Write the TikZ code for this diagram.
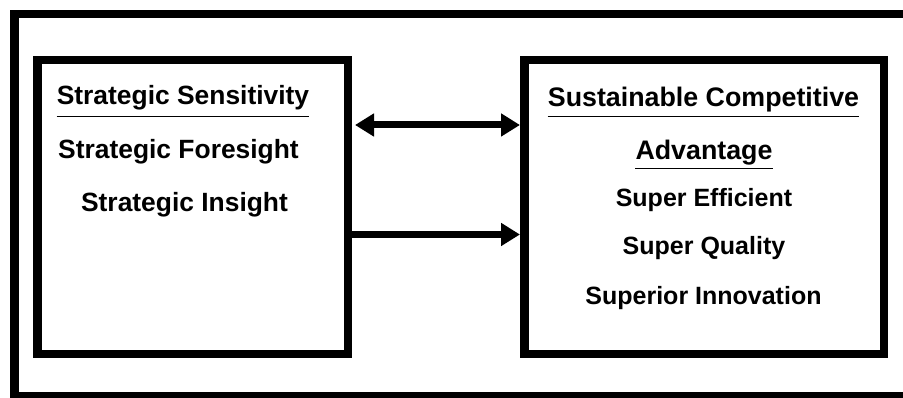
\documentclass[tikz,border=0pt]{standalone}
\usepackage{fontspec}
\setmainfont{Liberation Sans}
\usetikzlibrary{arrows.meta}
\begin{document}
\begin{tikzpicture}[x=1pt,y=-1pt,
  box/.style={draw,line width=8.5pt,inner sep=0pt,minimum height=293.5pt},
  hl/.style={font=\fontsize{26.4}{30}\selectfont\bfseries,inner sep=0pt,anchor=base},
  hr/.style={font=\fontsize{26.8}{30}\selectfont\bfseries,inner sep=0pt,anchor=base},
  ir/.style={font=\fontsize{25}{30}\selectfont\bfseries,inner sep=0pt,anchor=base},
  uline/.style={line width=1.3pt},
  conn/.style={line width=7pt},
  tip/.tip={Triangle[length=19pt,width=22pt]}]
\useasboundingbox (0,0) rectangle (903,398);
\clip (0,0) rectangle (903,398);
% outer frame (clipped at right and bottom)
\draw[line width=8.5pt] (915,396) -| (14.5,14) -- (915,14);
% boxes
\node[box,minimum width=310.5pt] (L) at (192.5,207) {};
\node[box,minimum width=359.5pt] (R) at (704,207) {};
% texts
\node[hl] (s1) at (183,105) {Strategic Sensitivity};
\node[hl] (s2) at (178.5,159) {Strategic Foresight};
\node[hl] (s3) at (184.5,211.7) {Strategic Insight};
\node[hr] (c1) at (703.5,106.7) {Sustainable Competitive};
\node[hr] (c2) at (704,159.3) {Advantage};
\node[ir] (c3) at (704,206.7) {Super Efficient};
\node[ir] (c4) at (704,255) {Super Quality};
\node[ir] (c5) at (703.5,305) {Superior Innovation};
% underlines
\draw[uline] ([yshift=-11.7pt]s1.base west) -- ([yshift=-11.7pt]s1.base east);
\draw[uline] ([yshift=-10pt]c1.base west) -- ([yshift=-10pt]c1.base east);
\draw[uline] ([yshift=-9pt]c2.base west) -- ([yshift=-9pt]c2.base east);
% connectors
\coordinate (a1) at (0,125);
\coordinate (a2) at (0,234.5);
\draw[conn,tip-tip,shorten <=3pt] (L.east |- a1) -- (R.west |- a1);
\draw[conn,-tip] (L.east |- a2) -- (R.west |- a2);
\end{tikzpicture}
\end{document}
